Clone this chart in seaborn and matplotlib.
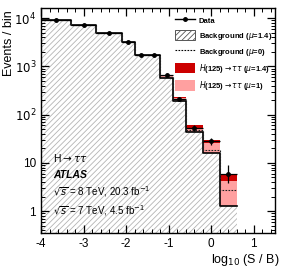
import numpy as np
import matplotlib
matplotlib.use('Agg')
import matplotlib.pyplot as plt
import seaborn as sns
from matplotlib.patches import Patch
from matplotlib.lines import Line2D
from matplotlib.ticker import FixedLocator, FuncFormatter, MultipleLocator, LogLocator

# binning in log10(S/B)
bin_edges = [-4.0, -3.3, -2.7, -2.1, -1.8, -1.5, -1.2, -0.9, -0.6, -0.2, 0.2, 0.6]
bin_centers = [-3.65, -3.0, -2.4, -1.95, -1.65, -1.35, -1.05, -0.75, -0.4, 0.0, 0.4]

# event yields per bin
bkg_mu14 = [9150, 7150, 4950, 3230, 1720, 1700, 585, 195, 44, 15.7, 1.27]
bkg_mu0 = [9200, 7200, 4990, 3260, 1740, 1720, 605, 205, 48, 18.5, 2.73]
sig_mu1 = [15, 20, 25, 30, 35, 40, 35, 22, 9.5, 9.7, 2.95]
sig_mu14 = [21, 28, 35, 42, 49, 56, 75, 34, 17, 14.0, 4.33]
data = [9180, 7120, 4960, 3250, 1730, 1710, 660, 210, 53, 28.3, 6.0]
data_err_lo = [95, 84, 70, 57, 42, 41, 26, 14, 7.3, 4.9, 2.2]
data_err_hi = [95, 84, 70, 57, 42, 41, 26, 14, 7.3, 4.0, 3.0]

dark_red = '#cc0000'
pink = '#ffa0a0'
hatch_grey = '#b4b4b4'

plt.rcParams['hatch.linewidth'] = 0.6
plt.rcParams['font.family'] = ['Liberation Sans', 'DejaVu Sans']

fig = plt.figure(figsize=(2.81, 2.67), dpi=100)
ax = fig.add_axes([0.146, 0.127, 0.833, 0.843])
ax.set_yscale('log')

tot14 = np.array(bkg_mu14) + np.array(sig_mu14)
tot1 = np.array(bkg_mu14) + np.array(sig_mu1)

# stacked signal + background
sns.histplot(x=bin_centers, weights=tot14, bins=bin_edges, element='step',
             fill=True, color=dark_red, alpha=1, linewidth=0, ax=ax)
sns.histplot(x=bin_centers, weights=tot1, bins=bin_edges, element='step',
             fill=True, color=pink, alpha=1, linewidth=0, ax=ax)
sns.histplot(x=bin_centers, weights=bkg_mu14, bins=bin_edges, element='step',
             fill=True, facecolor='white', edgecolor=hatch_grey, hatch='//////',
             alpha=1, linewidth=0, ax=ax)
sns.histplot(x=bin_centers, weights=bkg_mu14, bins=bin_edges, element='step',
             fill=False, color='black', linewidth=1.2, ax=ax)
sns.histplot(x=bin_centers, weights=bkg_mu0, bins=bin_edges, element='step',
             fill=False, color='#222222', linestyle=(0, (1.5, 1.2)),
             linewidth=0.8, ax=ax)

# data points
half_w = np.diff(bin_edges) / 2
ax.errorbar(bin_centers, data, yerr=[data_err_lo, data_err_hi], xerr=half_w,
            fmt='o', color='black', markersize=2.5, elinewidth=0.9, capsize=0, zorder=5)

ax.set_xlim(-4, 1.5)
ax.set_ylim(0.35, 16300)

ax.xaxis.set_major_locator(FixedLocator([-4, -3, -2, -1, 0, 1]))
ax.xaxis.set_minor_locator(MultipleLocator(0.2))
ax.xaxis.set_major_formatter(FuncFormatter(lambda v, p: f'{v:.0f}'))
ax.yaxis.set_major_locator(LogLocator(base=10, numticks=10))
ax.yaxis.set_minor_locator(LogLocator(base=10, subs=np.arange(2, 10), numticks=20))

def ylab(v, p):
    e = int(round(np.log10(v)))
    if e == 0:
        return '1'
    if e == 1:
        return '10'
    return f'$10^{{{e}}}$'

ax.yaxis.set_major_formatter(FuncFormatter(ylab))
ax.tick_params(which='both', direction='in', top=True, right=True, labelsize=8.5)
ax.tick_params(which='major', length=6, width=0.9)
ax.tick_params(which='minor', length=3, width=0.7)
for s in ax.spines.values():
    s.set_linewidth(1.0)

ax.set_xlabel('log$_{10}$ (S / B)', fontsize=9, ha='right')
ax.xaxis.set_label_coords(1.017, -0.085)
ax.set_ylabel('Events / bin', fontsize=9, loc='top')
ax.yaxis.set_label_coords(-0.112, 0.99)

# annotations
ax.text(0.05, 0.335, r'H$\rightarrow\tau\tau$', transform=ax.transAxes, fontsize=7.5, va='center')
ax.text(0.05, 0.26, 'ATLAS', transform=ax.transAxes, fontsize=7.5, va='center',
        fontweight='bold', fontstyle='italic')
ax.text(0.05, 0.185, r'$\sqrt{s}$ = 8 TeV, 20.3 fb$^{-1}$', transform=ax.transAxes,
        fontsize=7, va='center')
ax.text(0.05, 0.10, r'$\sqrt{s}$ = 7 TeV, 4.5 fb$^{-1}$', transform=ax.transAxes,
        fontsize=7, va='center')

handles = [
    Line2D([], [], color='black', marker='o', markersize=2.5, linewidth=1),
    Patch(facecolor='white', edgecolor='#555555', hatch='//////', linewidth=0.7),
    Line2D([], [], color='black', linestyle=(0, (1.5, 1.2)), linewidth=0.8),
    Patch(facecolor=dark_red, edgecolor='none'),
    Patch(facecolor=pink, edgecolor='none'),
]
labels = ['Data', r'Background ($\mu$=1.4)', r'Background ($\mu$=0)',
          r'$H$(125)$\rightarrow\tau\tau$ ($\mu$=1.4)', r'$H$(125)$\rightarrow\tau\tau$ ($\mu$=1)']
leg = ax.legend(handles, labels, loc='upper left', bbox_to_anchor=(0.56, 0.98),
                frameon=False, fontsize=5.5, handlelength=2.6, handleheight=1.7,
                labelspacing=0.55, handletextpad=0.5, borderaxespad=0)
for t in leg.get_texts():
    t.set_fontweight('bold')

fig.savefig('out.png', dpi=100)
